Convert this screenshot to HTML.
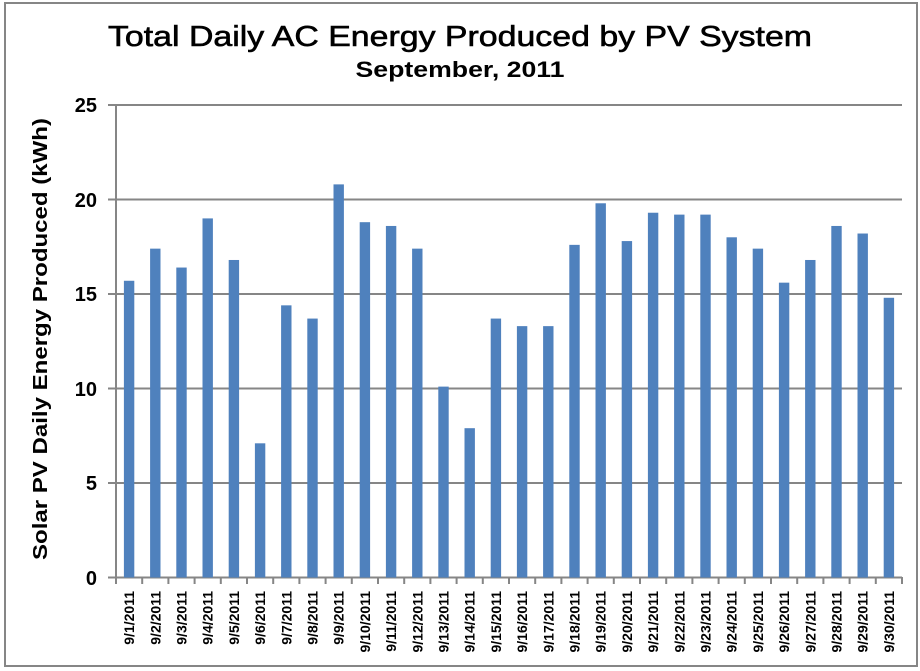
<!DOCTYPE html>
<html><head><meta charset="utf-8"><style>html,body{margin:0;padding:0;background:#fff}svg{display:block}</style></head><body>
<svg width="920" height="671" xmlns="http://www.w3.org/2000/svg" font-family="Liberation Sans, sans-serif">
<rect x="0" y="0" width="920" height="671" fill="#fff"/>
<rect x="5" y="3" width="912" height="663" fill="none" stroke="#868686" stroke-width="2"/>
<text x="460" y="46" font-size="29" text-anchor="middle" stroke="#000" stroke-width="0.6" textLength="704" lengthAdjust="spacingAndGlyphs">Total Daily AC Energy Produced by PV System</text>
<text x="460" y="77" font-size="22" font-weight="bold" text-anchor="middle" textLength="209" lengthAdjust="spacingAndGlyphs">September, 2011</text>
<text transform="translate(47,339) rotate(-90)" font-size="20" font-weight="bold" text-anchor="middle" textLength="442" lengthAdjust="spacingAndGlyphs">Solar PV Daily Energy Produced (kWh)</text>
<g stroke="#868686" stroke-width="2">
<line x1="108" y1="105" x2="902" y2="105"/>
<line x1="108" y1="199.5" x2="902" y2="199.5"/>
<line x1="108" y1="294" x2="902" y2="294"/>
<line x1="108" y1="388.5" x2="902" y2="388.5"/>
<line x1="108" y1="483" x2="902" y2="483"/>
<line x1="108" y1="577.5" x2="902" y2="577.5"/>
<line x1="116" y1="105" x2="116" y2="578"/>
</g>
<g font-size="20" font-weight="bold" text-anchor="end">
<text x="97" y="112">25</text><text x="97" y="207">20</text><text x="97" y="301">15</text><text x="97" y="396">10</text><text x="97" y="490">5</text><text x="97" y="585">0</text>
</g>
<g id="bars"></g>
<g id="ticks" stroke="#868686" stroke-width="2"></g>
<g id="labels" font-size="14" font-weight="bold"></g>
<script>
var v=[15.7,17.4,16.4,19.0,16.8,7.1,14.4,13.7,20.8,18.8,18.6,17.4,10.1,7.9,13.7,13.3,13.3,17.6,19.8,17.8,19.3,19.2,19.2,18.0,17.4,15.6,16.8,18.6,18.2,14.8];
var ns="http://www.w3.org/2000/svg",x0=116,cw=786/30,y0=577.5,k=18.9;
var b=document.getElementById('bars'),t=document.getElementById('ticks'),l=document.getElementById('labels');
for(var i=0;i<30;i++){
 var c=x0+cw*(i+0.5),h=v[i]*k;
 var r=document.createElementNS(ns,'rect');r.setAttribute('x',c-5.2);r.setAttribute('y',y0-h);r.setAttribute('width',10.4);r.setAttribute('height',h);r.setAttribute('fill','#4f81bd');b.appendChild(r);
 var tl=document.createElementNS(ns,'line');var tx=x0+cw*(i+1);tl.setAttribute('x1',tx);tl.setAttribute('x2',tx);tl.setAttribute('y1',577);tl.setAttribute('y2',584);t.appendChild(tl);
 var tx2=document.createElementNS(ns,'text');tx2.setAttribute('transform','translate('+(c+5)+',591) rotate(-90)');tx2.setAttribute('text-anchor','end');tx2.textContent='9/'+(i+1)+'/2011';l.appendChild(tx2);
}
var tl0=document.createElementNS(ns,'line');tl0.setAttribute('x1',116);tl0.setAttribute('x2',116);tl0.setAttribute('y1',577);tl0.setAttribute('y2',584);t.appendChild(tl0);
</script>
</svg>
</body></html>
